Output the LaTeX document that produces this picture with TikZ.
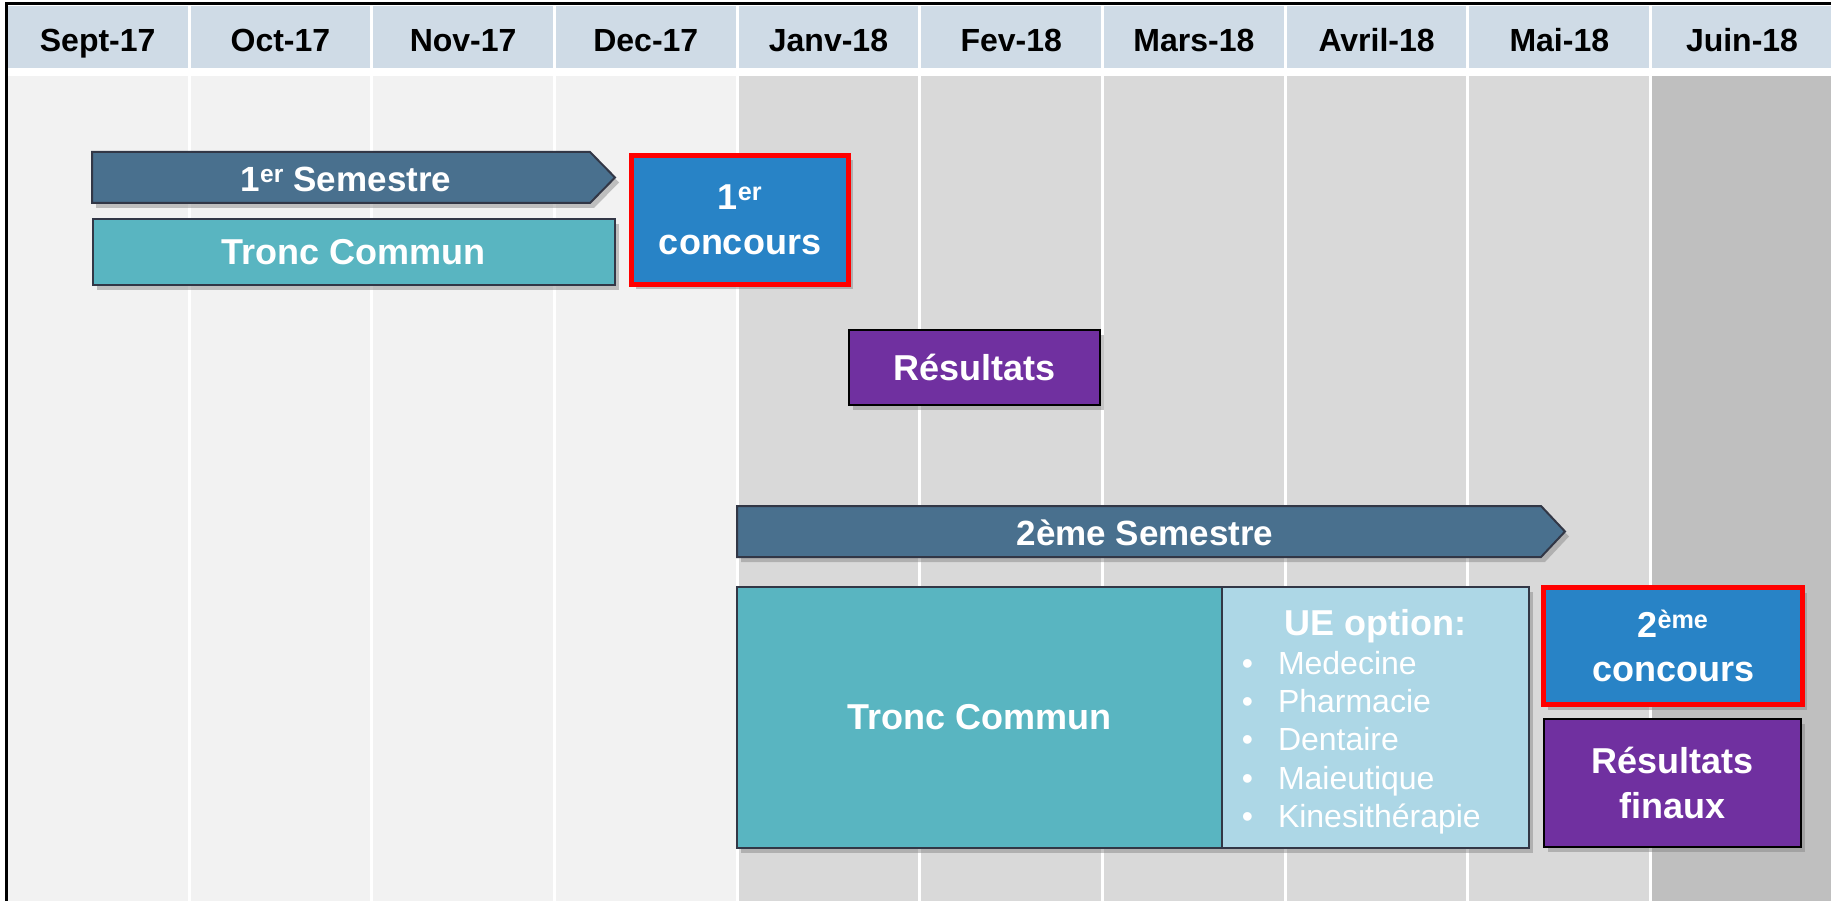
\documentclass[tikz,border=0pt]{standalone}
\usepackage{fontspec}
\setmainfont{Liberation Sans}
\usetikzlibrary{shadows}
\definecolor{headblue}{RGB}{207,219,230}
\definecolor{paleg}{RGB}{242,242,242}
\definecolor{midg}{RGB}{217,217,217}
\definecolor{darkg}{RGB}{191,191,191}
\definecolor{semblue}{RGB}{73,112,142}
\definecolor{tcteal}{RGB}{89,181,193}
\definecolor{concblue}{RGB}{40,131,198}
\definecolor{respurple}{RGB}{112,48,160}
\definecolor{uelight}{RGB}{173,215,230}
\definecolor{boxline}{RGB}{50,55,70}
\begin{document}
\begin{tikzpicture}[x=1pt,y=-1pt]
				\tikzset{every node/.style={inner sep=0pt, outer sep=0pt, text=white},
					month/.style={anchor=base, text=black, font=\bfseries\fontsize{32}{38}\selectfont},
					boxshadow/.style={drop shadow={shadow xshift=4pt, shadow yshift=-5pt, opacity=0.45}},
					semarrow/.style={fill=semblue, draw=boxline, line width=2pt, boxshadow},
					semtext/.style={anchor=base, font=\bfseries\fontsize{35}{42}\selectfont},
					box/.style={draw=boxline, line width=2pt, boxshadow, align=center, font=\bfseries\fontsize{36}{44.5}\selectfont},
					concbox/.style={box, fill=concblue, draw=red, line width=5pt},
					resbox/.style={box, fill=respurple, draw=black},
					item/.style={anchor=base west, font=\fontsize{32}{38}\selectfont}}
				\useasboundingbox (0,0) rectangle (1831,901);
				\clip (0,0) rectangle (1831,901);
				% grid of months
				\fill[white] (0,0) rectangle (1831,901);
				\fill[headblue] (6.3,6) rectangle (1831,68);
				\fill[paleg] (6.3,76) rectangle (737.1,901);
				\fill[midg] (737.1,76) rectangle (1650.6,901);
				\fill[darkg] (1650.6,76) rectangle (1831,901);
				\draw[white, line width=3pt] (189,6)--(189,901) (371.7,6)--(371.7,901)
				(554.4,6)--(554.4,901) (737.1,6)--(737.1,901) (919.8,6)--(919.8,901)
				(1102.5,6)--(1102.5,901) (1285.2,6)--(1285.2,901) (1467.9,6)--(1467.9,901)
				(1650.6,6)--(1650.6,901);
				\draw[line width=3pt] (6.8,901)--(6.8,4)--(1831,4);
				\path (97.7,52) node[month] (sep) {Sept-17}
				(280.4,52) node[month] (oct) {Oct-17}
				(463.1,52) node[month] (nov) {Nov-17}
				(645.8,52) node[month] (dec) {Dec-17}
				(828.5,52) node[month] (jan) {Janv-18}
				(1011.2,52) node[month] (feb) {Fev-18}
				(1193.9,52) node[month] (mar) {Mars-18}
				(1376.6,52) node[month] (apr) {Avril-18}
				(1559.3,52) node[month] (may) {Mai-18}
				(1742,52) node[month] (jun) {Juin-18};
				% first semester
				\draw[semarrow] (92,152)--(590,152)--(615,177.5)--(590,203)--(92,203)--cycle;
				\node[semtext] (sem1) at (346,191.5) {1\textsuperscript{er} Semestre};
				\node[box, fill=tcteal, minimum width=522pt, minimum height=66pt] (tc1) at (353.5,252.5) {Tronc Commun};
				\node[concbox, minimum width=217pt, minimum height=129pt] (conc1) at (740,220) {1\textsuperscript{er}\\concours};
				\node[resbox, minimum width=251pt, minimum height=75pt] (res1) at (974.5,367.5) {Résultats};
				% second semester
				\draw[semarrow] (737,506)--(1541,506)--(1565,531.5)--(1541,557)--(737,557)--cycle;
				\node[semtext] (sem2) at (1145,545) {2ème Semestre};
				\node[box, fill=tcteal, minimum width=485pt, minimum height=261pt] (tc2) at (979.5,717.5) {Tronc Commun};
				\node[box, fill=uelight, minimum width=307pt, minimum height=261pt] (ue) at (1375.5,717.5) {};
				\node[anchor=base, font=\bfseries\fontsize{36}{44}\selectfont] (uehead) at (1375.5,635) {UE option:};
				\path (1278,674) node[item] (med) {\llap{•\hspace{25pt}}Medecine}
				(1278,712.5) node[item] (pha) {\llap{•\hspace{25pt}}Pharmacie}
				(1278,750.8) node[item] (den) {\llap{•\hspace{25pt}}Dentaire}
				(1278,789) node[item] (mai) {\llap{•\hspace{25pt}}Maieutique}
				(1278,827) node[item] (kin) {\llap{•\hspace{25pt}}Kinesithérapie};
				\node[concbox, minimum width=259pt, minimum height=117pt] (conc2) at (1673,646) {2\textsuperscript{ème}\\concours};
				\node[resbox, minimum width=257pt, minimum height=128pt] (res2) at (1672.5,783) {Résultats\\finaux};
			\end{tikzpicture}
\end{document}
